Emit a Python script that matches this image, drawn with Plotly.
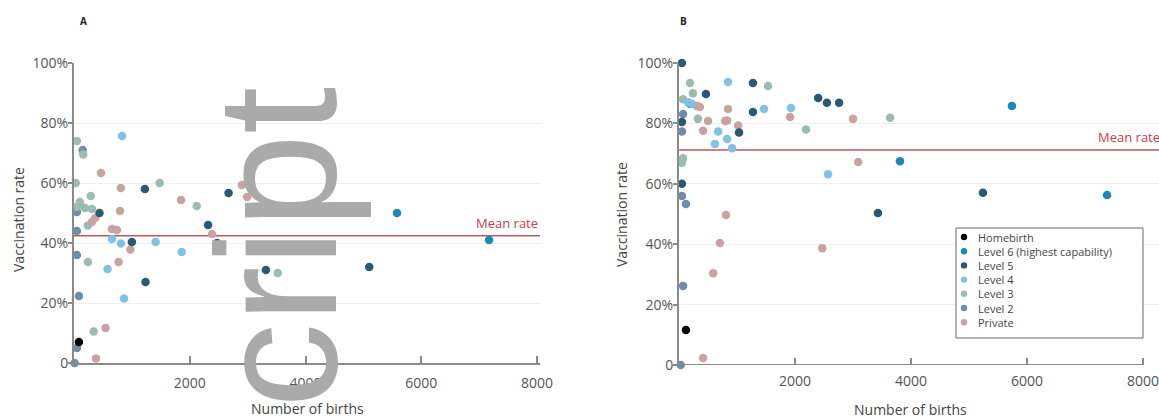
import plotly.graph_objects as go

# ---------------- data ----------------
categories = ["Homebirth", "Level 6 (highest capability)", "Level 5", "Level 4",
              "Level 3", "Level 2", "Private"]
colors = {
    "Homebirth": "#000000",
    "Level 6 (highest capability)": "#1f86ba",
    "Level 5": "#2b5874",
    "Level 4": "#80c2e6",
    "Level 3": "#9cbcb0",
    "Level 2": "#6f8ca8",
    "Private": "#c9a3a3",
}

# Panel A: (births, vaccination rate %)
a_homebirth = [(85, 7)]
a_level6 = [(3710, 52), (5580, 50), (7170, 41)]
a_level5 = [(1225, 58), (2670, 56.7), (440, 50), (2316, 46), (1000, 40.3),
            (2470, 40), (1235, 27), (3315, 31), (5100, 32)]
a_level4 = [(829, 75.7), (656, 41.3), (810, 39.8), (1410, 40.3), (1860, 37),
            (2490, 37.7), (580, 31.3), (865, 21.5)]
a_level3 = [(50, 74), (160, 69.5), (30, 60), (1480, 60), (290, 55.7), (100, 53.7),
            (2120, 52.3), (50, 52), (190, 51.7), (310, 51.3), (240, 45.8),
            (240, 33.7), (340, 10.5), (3520, 30)]
a_level2 = [(150, 71), (50, 50.3), (50, 44), (50, 36), (85, 22.3), (50, 5), (10, 0)]
a_private = [(466, 63.3), (810, 58.3), (1850, 54.3), (2900, 59.3), (2990, 55.3),
             (795, 50.7), (365, 48.3), (310, 47), (656, 44.7), (742, 44.3),
             (2385, 43), (975, 37.8), (770, 33.7), (545, 11.7), (380, 1.5)]
a_mean = 42.4

# Panel B
b_homebirth = [(120, 11.6)]
b_level6 = [(5740, 85.8), (3810, 67.5), (7380, 56.3)]
b_level5 = [(50, 100), (1275, 93.4), (465, 89.7), (2400, 88.4), (2550, 86.8),
            (2760, 86.8), (1275, 83.8), (1035, 77), (50, 80.5), (50, 60),
            (3430, 50.3), (5240, 57)]
b_level4 = [(845, 93.7), (225, 86.4), (155, 87), (1465, 84.8), (1930, 85.1),
            (675, 77.3), (830, 74.8), (620, 73.2), (915, 71.8), (2570, 63.2)]
b_level3 = [(190, 93.4), (1535, 92.4), (240, 90), (70, 88), (325, 81.5),
            (2190, 78), (3640, 81.9), (70, 68.5), (50, 67)]
b_level2 = [(190, 86.4), (70, 83.1), (50, 77.3), (50, 56), (120, 53.3),
            (70, 26.2), (30, 0)]
b_private = [(310, 85.8), (360, 85.4), (845, 84.8), (1915, 82.1), (500, 80.8),
             (795, 80.8), (830, 81), (1020, 79.3), (415, 77.6), (3000, 81.5),
             (3090, 67.2), (810, 49.7), (705, 40.4), (590, 30.4), (2470, 38.7),
             (415, 2.3)]
b_mean = 71.2

y_tickvals = [0, 20, 40, 60, 80, 100]
y_ticktext = ["0", "20%", "40%", "60%", "80%", "100%"]
x_tickvals = [2000, 4000, 6000, 8000]
x_ticktext = ["2000", "4000", "6000", "8000"]

panel_a = dict(zip(categories, [a_homebirth, a_level6, a_level5, a_level4,
                                a_level3, a_level2, a_private]))
panel_b = dict(zip(categories, [b_homebirth, b_level6, b_level5, b_level4,
                                b_level3, b_level2, b_private]))

# ---------------- figure ----------------
W, H = 1159, 418
FONT = "Open Sans"
fig = go.Figure()

draw_order = ["Level 2", "Level 3", "Private", "Level 4", "Level 5",
              "Level 6 (highest capability)", "Homebirth"]
for xa, ya, panel in [("x", "y", panel_a), ("x2", "y2", panel_b)]:
    for cat in draw_order:
        pts = panel[cat]
        fig.add_trace(go.Scatter(
            x=[p[0] for p in pts], y=[p[1] for p in pts], mode="markers",
            marker=dict(color=colors[cat], size=8.5, line=dict(width=0)),
            name=cat, showlegend=False, cliponaxis=False,
            xaxis=xa, yaxis=ya))

axis_color = "#8a8a8a"
tickfont = dict(family=FONT, size=14, color="#555555")

def yax(domain, anchor):
    return dict(domain=domain, range=[0, 100], tickvals=y_tickvals, ticktext=y_ticktext,
                ticks="outside", ticklen=4, tickcolor=axis_color, tickwidth=1.5,
                showline=True, linecolor=axis_color, linewidth=2,
                showgrid=True, gridcolor="#efefef", gridwidth=1, zeroline=False,
                tickfont=tickfont, anchor=anchor, ticklabelstandoff=-3,
                ticklabeloverflow="allow")

def xax(domain, rng, showline, anchor):
    return dict(domain=domain, range=rng, tickvals=x_tickvals, ticktext=x_ticktext,
                ticks="inside", ticklen=7, tickcolor=axis_color, tickwidth=1.5,
                showline=showline, linecolor=axis_color, linewidth=2,
                showgrid=False, zeroline=False, tickfont=tickfont,
                ticklabelstandoff=6, anchor=anchor, ticklabeloverflow="allow")

xa_dom = [74 / W, 540 / W]
xb_dom = [679 / W, 1.0]
ya_dom = [(H - 363) / H, (H - 63) / H]
yb_dom = [(H - 365) / H, (H - 63) / H]
a_xmax = 8050
b_xmax = (W - 679) / 58.0 * 1000

fig.update_layout(
    width=W, height=H, template="none",
    paper_bgcolor="white", plot_bgcolor="white",
    margin=dict(l=0, r=0, t=0, b=0),
    font=dict(family=FONT, color="#444444"),
    xaxis=xax(xa_dom, [0, a_xmax], True, "y"),
    yaxis=yax(ya_dom, "x"),
    xaxis2=xax(xb_dom, [0, b_xmax], False, "y2"),
    yaxis2=yax(yb_dom, "x2"),
    showlegend=False,
)

shapes = [
    dict(type="line", xref="x", yref="y", x0=0, x1=a_xmax, y0=a_mean, y1=a_mean,
         line=dict(color="#c25560", width=1.5), layer="between"),
    dict(type="line", xref="x2", yref="y2", x0=0, x1=b_xmax, y0=b_mean, y1=b_mean,
         line=dict(color="#c25560", width=1.5), layer="between"),
    dict(type="line", xref="x2", yref="y2", x0=0, x1=8000, y0=0, y1=0,
         line=dict(color=axis_color, width=2), layer="above"),
]

ann = []
ann.append(dict(text="Mean rate", xref="x", yref="y", x=a_xmax, y=a_mean,
                xanchor="right", yanchor="bottom", yshift=2, showarrow=False,
                font=dict(family=FONT, size=13, color="#c0404f")))
ann.append(dict(text="Mean rate", xref="x2", yref="y2", x=7190, y=b_mean,
                xanchor="left", yanchor="bottom", yshift=2, showarrow=False,
                font=dict(family=FONT, size=13, color="#c0404f")))
for lbl, px in [("A", 83), ("B", 683)]:
    ann.append(dict(text="<b>" + lbl + "</b>", xref="paper", yref="paper",
                    x=px / W, y=(H - 21) / H, xanchor="center", yanchor="middle",
                    showarrow=False, font=dict(family=FONT, size=10, color="#222222")))
for px, py in [(18, 220), (622, 215)]:
    ann.append(dict(text="Vaccination rate", xref="paper", yref="paper",
                    x=px / W, y=(H - py) / H, xanchor="center", yanchor="middle",
                    textangle=-90, showarrow=False,
                    font=dict(family=FONT, size=14, color="#444444")))
for px, py in [(307, 408), (910, 409)]:
    ann.append(dict(text="Number of births", xref="paper", yref="paper",
                    x=px / W, y=(H - py) / H, xanchor="center", yanchor="middle",
                    showarrow=False, font=dict(family=FONT, size=14, color="#444444")))

# legend (compact box inside panel B), built from the category list
lx0, lx1, ly0, ly1 = 956, 1143, 228, 338
shapes.append(dict(type="rect", xref="paper", yref="paper",
                   x0=lx0 / W, x1=lx1 / W, y0=(H - ly1) / H, y1=(H - ly0) / H,
                   line=dict(color="#666666", width=1), fillcolor="white", layer="above"))
step = 14.2
for i, cat in enumerate(categories):
    cy = 237 + step * i
    r = 3.2
    shapes.append(dict(type="circle", xref="paper", yref="paper",
                       x0=(964 - r) / W, x1=(964 + r) / W,
                       y0=(H - cy - r) / H, y1=(H - cy + r) / H,
                       fillcolor=colors[cat], line=dict(width=0), layer="above"))
    ann.append(dict(text=cat, xref="paper", yref="paper", x=976 / W, y=(H - cy) / H,
                    xanchor="left", yanchor="middle", showarrow=False,
                    font=dict(family=FONT, size=11, color="#444444")))

# watermark fragment visible in the reference
ann.append(dict(text="cript", xref="paper", yref="paper",
                x=277 / W, y=(H - 248) / H, xanchor="center", yanchor="middle",
                textangle=-90, showarrow=False,
                font=dict(family="Liberation Sans", size=170, color="#aaaaaa")))

fig.update_layout(shapes=shapes, annotations=ann)

fig.write_html("out.html", config={"displayModeBar": False},
               post_script="document.body.style.margin='0px';")
